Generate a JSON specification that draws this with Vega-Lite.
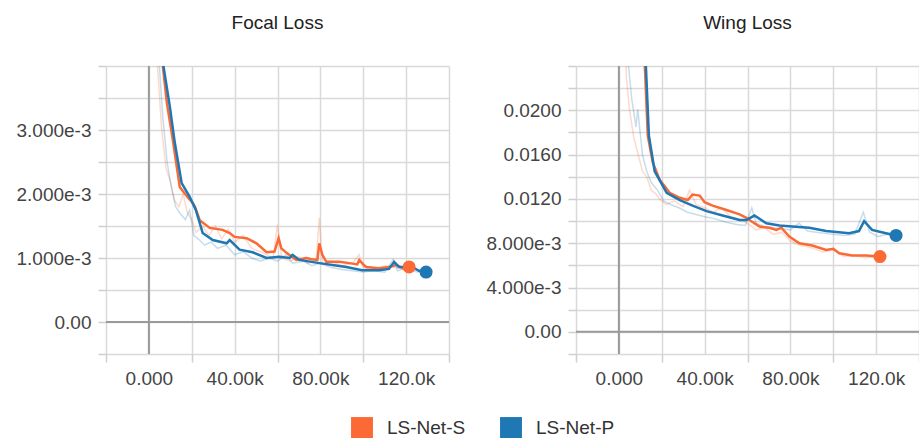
{
  "$schema": "https://vega.github.io/schema/vega-lite/v6.json",
  "padding": {"left": 15, "top": 14, "right": 0, "bottom": 0},
  "config": {
    "view": {"stroke": null},
    "font": "Liberation Sans",
    "axis": {
      "labelFont": "Liberation Sans", "labelFontSize": 19, "labelColor": "#444",
      "domain": false, "gridColor": "#d9d9d9", "gridWidth": 1.5,
      "tickColor": "#cfcfcf", "tickWidth": 1.5, "tickSize": 8, "labelPadding": 7, "title": null
    },
    "title": {"fontSize": 19, "fontWeight": "normal", "color": "#222", "font": "Liberation Sans", "offset": 32},
    "legend": {"labelFontSize": 19, "labelColor": "#333", "labelFont": "Liberation Sans"}
  },
  "datasets": {
    "focal": [
      {"step": 4000, "value": 0.0060, "run": "LS-Net-S", "kind": "smoothed"},
      {"step": 6500, "value": 0.0040, "run": "LS-Net-S", "kind": "smoothed"},
      {"step": 8400, "value": 0.00342, "run": "LS-Net-S", "kind": "smoothed"},
      {"step": 11200, "value": 0.00284, "run": "LS-Net-S", "kind": "smoothed"},
      {"step": 14400, "value": 0.00211, "run": "LS-Net-S", "kind": "smoothed"},
      {"step": 18100, "value": 0.00195, "run": "LS-Net-S", "kind": "smoothed"},
      {"step": 20500, "value": 0.00186, "run": "LS-Net-S", "kind": "smoothed"},
      {"step": 21500, "value": 0.00180, "run": "LS-Net-S", "kind": "smoothed"},
      {"step": 23700, "value": 0.00159, "run": "LS-Net-S", "kind": "smoothed"},
      {"step": 28400, "value": 0.00147, "run": "LS-Net-S", "kind": "smoothed"},
      {"step": 34400, "value": 0.00144, "run": "LS-Net-S", "kind": "smoothed"},
      {"step": 37700, "value": 0.00139, "run": "LS-Net-S", "kind": "smoothed"},
      {"step": 40000, "value": 0.00133, "run": "LS-Net-S", "kind": "smoothed"},
      {"step": 45600, "value": 0.00131, "run": "LS-Net-S", "kind": "smoothed"},
      {"step": 50200, "value": 0.00123, "run": "LS-Net-S", "kind": "smoothed"},
      {"step": 54900, "value": 0.00109, "run": "LS-Net-S", "kind": "smoothed"},
      {"step": 58600, "value": 0.00110, "run": "LS-Net-S", "kind": "smoothed"},
      {"step": 60500, "value": 0.00131, "run": "LS-Net-S", "kind": "smoothed"},
      {"step": 61800, "value": 0.00115, "run": "LS-Net-S", "kind": "smoothed"},
      {"step": 64200, "value": 0.00108, "run": "LS-Net-S", "kind": "smoothed"},
      {"step": 68800, "value": 0.00097, "run": "LS-Net-S", "kind": "smoothed"},
      {"step": 73500, "value": 0.00100, "run": "LS-Net-S", "kind": "smoothed"},
      {"step": 75800, "value": 0.00098, "run": "LS-Net-S", "kind": "smoothed"},
      {"step": 78600, "value": 0.00097, "run": "LS-Net-S", "kind": "smoothed"},
      {"step": 79500, "value": 0.00123, "run": "LS-Net-S", "kind": "smoothed"},
      {"step": 80900, "value": 0.00105, "run": "LS-Net-S", "kind": "smoothed"},
      {"step": 82800, "value": 0.00094, "run": "LS-Net-S", "kind": "smoothed"},
      {"step": 88800, "value": 0.00094, "run": "LS-Net-S", "kind": "smoothed"},
      {"step": 93500, "value": 0.00092, "run": "LS-Net-S", "kind": "smoothed"},
      {"step": 97200, "value": 0.00090, "run": "LS-Net-S", "kind": "smoothed"},
      {"step": 98100, "value": 0.00097, "run": "LS-Net-S", "kind": "smoothed"},
      {"step": 100000, "value": 0.00090, "run": "LS-Net-S", "kind": "smoothed"},
      {"step": 101400, "value": 0.00086, "run": "LS-Net-S", "kind": "smoothed"},
      {"step": 107400, "value": 0.00084, "run": "LS-Net-S", "kind": "smoothed"},
      {"step": 112000, "value": 0.00086, "run": "LS-Net-S", "kind": "smoothed"},
      {"step": 115300, "value": 0.00089, "run": "LS-Net-S", "kind": "smoothed"},
      {"step": 118600, "value": 0.00084, "run": "LS-Net-S", "kind": "smoothed"},
      {"step": 121400, "value": 0.00086, "run": "LS-Net-S", "kind": "smoothed"},

      {"step": 4000, "value": 0.0062, "run": "LS-Net-P", "kind": "smoothed"},
      {"step": 6800, "value": 0.0040, "run": "LS-Net-P", "kind": "smoothed"},
      {"step": 9800, "value": 0.00336, "run": "LS-Net-P", "kind": "smoothed"},
      {"step": 12100, "value": 0.00280, "run": "LS-Net-P", "kind": "smoothed"},
      {"step": 15300, "value": 0.00217, "run": "LS-Net-P", "kind": "smoothed"},
      {"step": 19100, "value": 0.00195, "run": "LS-Net-P", "kind": "smoothed"},
      {"step": 21900, "value": 0.00175, "run": "LS-Net-P", "kind": "smoothed"},
      {"step": 23700, "value": 0.00155, "run": "LS-Net-P", "kind": "smoothed"},
      {"step": 25100, "value": 0.00139, "run": "LS-Net-P", "kind": "smoothed"},
      {"step": 29800, "value": 0.00128, "run": "LS-Net-P", "kind": "smoothed"},
      {"step": 36300, "value": 0.00123, "run": "LS-Net-P", "kind": "smoothed"},
      {"step": 37700, "value": 0.00128, "run": "LS-Net-P", "kind": "smoothed"},
      {"step": 42300, "value": 0.00113, "run": "LS-Net-P", "kind": "smoothed"},
      {"step": 48400, "value": 0.00109, "run": "LS-Net-P", "kind": "smoothed"},
      {"step": 54900, "value": 0.00100, "run": "LS-Net-P", "kind": "smoothed"},
      {"step": 60900, "value": 0.00102, "run": "LS-Net-P", "kind": "smoothed"},
      {"step": 65600, "value": 0.00100, "run": "LS-Net-P", "kind": "smoothed"},
      {"step": 67000, "value": 0.00105, "run": "LS-Net-P", "kind": "smoothed"},
      {"step": 70200, "value": 0.00097, "run": "LS-Net-P", "kind": "smoothed"},
      {"step": 79500, "value": 0.00092, "run": "LS-Net-P", "kind": "smoothed"},
      {"step": 85600, "value": 0.00089, "run": "LS-Net-P", "kind": "smoothed"},
      {"step": 92100, "value": 0.00086, "run": "LS-Net-P", "kind": "smoothed"},
      {"step": 99500, "value": 0.00081, "run": "LS-Net-P", "kind": "smoothed"},
      {"step": 107400, "value": 0.00081, "run": "LS-Net-P", "kind": "smoothed"},
      {"step": 112000, "value": 0.00083, "run": "LS-Net-P", "kind": "smoothed"},
      {"step": 114400, "value": 0.00094, "run": "LS-Net-P", "kind": "smoothed"},
      {"step": 116700, "value": 0.00086, "run": "LS-Net-P", "kind": "smoothed"},
      {"step": 122800, "value": 0.00086, "run": "LS-Net-P", "kind": "smoothed"},
      {"step": 126000, "value": 0.00080, "run": "LS-Net-P", "kind": "smoothed"},
      {"step": 129300, "value": 0.00078, "run": "LS-Net-P", "kind": "smoothed"},

      {"step": 2000, "value": 0.0060, "run": "LS-Net-S", "kind": "raw"},
      {"step": 4000, "value": 0.0040, "run": "LS-Net-S", "kind": "raw"},
      {"step": 6000, "value": 0.0030, "run": "LS-Net-S", "kind": "raw"},
      {"step": 8000, "value": 0.0024, "run": "LS-Net-S", "kind": "raw"},
      {"step": 10000, "value": 0.0022, "run": "LS-Net-S", "kind": "raw"},
      {"step": 12000, "value": 0.0019, "run": "LS-Net-S", "kind": "raw"},
      {"step": 14000, "value": 0.0018, "run": "LS-Net-S", "kind": "raw"},
      {"step": 16000, "value": 0.0020, "run": "LS-Net-S", "kind": "raw"},
      {"step": 18000, "value": 0.0017, "run": "LS-Net-S", "kind": "raw"},
      {"step": 20000, "value": 0.0016, "run": "LS-Net-S", "kind": "raw"},
      {"step": 22000, "value": 0.0014, "run": "LS-Net-S", "kind": "raw"},
      {"step": 25000, "value": 0.0015, "run": "LS-Net-S", "kind": "raw"},
      {"step": 28000, "value": 0.00135, "run": "LS-Net-S", "kind": "raw"},
      {"step": 31000, "value": 0.0015, "run": "LS-Net-S", "kind": "raw"},
      {"step": 34000, "value": 0.0013, "run": "LS-Net-S", "kind": "raw"},
      {"step": 37000, "value": 0.00145, "run": "LS-Net-S", "kind": "raw"},
      {"step": 40000, "value": 0.00125, "run": "LS-Net-S", "kind": "raw"},
      {"step": 44000, "value": 0.00135, "run": "LS-Net-S", "kind": "raw"},
      {"step": 48000, "value": 0.00115, "run": "LS-Net-S", "kind": "raw"},
      {"step": 52000, "value": 0.0011, "run": "LS-Net-S", "kind": "raw"},
      {"step": 55000, "value": 0.00105, "run": "LS-Net-S", "kind": "raw"},
      {"step": 58000, "value": 0.0010, "run": "LS-Net-S", "kind": "raw"},
      {"step": 60000, "value": 0.00152, "run": "LS-Net-S", "kind": "raw"},
      {"step": 62000, "value": 0.0010, "run": "LS-Net-S", "kind": "raw"},
      {"step": 66000, "value": 0.00095, "run": "LS-Net-S", "kind": "raw"},
      {"step": 70000, "value": 0.00102, "run": "LS-Net-S", "kind": "raw"},
      {"step": 74000, "value": 0.00092, "run": "LS-Net-S", "kind": "raw"},
      {"step": 78000, "value": 0.00095, "run": "LS-Net-S", "kind": "raw"},
      {"step": 79500, "value": 0.00163, "run": "LS-Net-S", "kind": "raw"},
      {"step": 81000, "value": 0.0009, "run": "LS-Net-S", "kind": "raw"},
      {"step": 85000, "value": 0.00095, "run": "LS-Net-S", "kind": "raw"},
      {"step": 90000, "value": 0.00088, "run": "LS-Net-S", "kind": "raw"},
      {"step": 95000, "value": 0.00092, "run": "LS-Net-S", "kind": "raw"},
      {"step": 98000, "value": 0.00105, "run": "LS-Net-S", "kind": "raw"},
      {"step": 100000, "value": 0.00085, "run": "LS-Net-S", "kind": "raw"},
      {"step": 105000, "value": 0.00082, "run": "LS-Net-S", "kind": "raw"},
      {"step": 110000, "value": 0.00088, "run": "LS-Net-S", "kind": "raw"},
      {"step": 115000, "value": 0.00085, "run": "LS-Net-S", "kind": "raw"},
      {"step": 120000, "value": 0.00082, "run": "LS-Net-S", "kind": "raw"},
      {"step": 121400, "value": 0.00086, "run": "LS-Net-S", "kind": "raw"},

      {"step": 2500, "value": 0.0060, "run": "LS-Net-P", "kind": "raw"},
      {"step": 4500, "value": 0.0042, "run": "LS-Net-P", "kind": "raw"},
      {"step": 6500, "value": 0.0032, "run": "LS-Net-P", "kind": "raw"},
      {"step": 8500, "value": 0.0025, "run": "LS-Net-P", "kind": "raw"},
      {"step": 10500, "value": 0.0021, "run": "LS-Net-P", "kind": "raw"},
      {"step": 12500, "value": 0.0018, "run": "LS-Net-P", "kind": "raw"},
      {"step": 14500, "value": 0.0017, "run": "LS-Net-P", "kind": "raw"},
      {"step": 17000, "value": 0.0016, "run": "LS-Net-P", "kind": "raw"},
      {"step": 19000, "value": 0.00175, "run": "LS-Net-P", "kind": "raw"},
      {"step": 21000, "value": 0.00135, "run": "LS-Net-P", "kind": "raw"},
      {"step": 23000, "value": 0.0013, "run": "LS-Net-P", "kind": "raw"},
      {"step": 26000, "value": 0.0012, "run": "LS-Net-P", "kind": "raw"},
      {"step": 29000, "value": 0.00125, "run": "LS-Net-P", "kind": "raw"},
      {"step": 32000, "value": 0.00115, "run": "LS-Net-P", "kind": "raw"},
      {"step": 36000, "value": 0.0012, "run": "LS-Net-P", "kind": "raw"},
      {"step": 40000, "value": 0.00105, "run": "LS-Net-P", "kind": "raw"},
      {"step": 44000, "value": 0.0011, "run": "LS-Net-P", "kind": "raw"},
      {"step": 48000, "value": 0.0010, "run": "LS-Net-P", "kind": "raw"},
      {"step": 52000, "value": 0.00095, "run": "LS-Net-P", "kind": "raw"},
      {"step": 56000, "value": 0.0010, "run": "LS-Net-P", "kind": "raw"},
      {"step": 60000, "value": 0.00095, "run": "LS-Net-P", "kind": "raw"},
      {"step": 64000, "value": 0.00105, "run": "LS-Net-P", "kind": "raw"},
      {"step": 67000, "value": 0.00092, "run": "LS-Net-P", "kind": "raw"},
      {"step": 72000, "value": 0.00095, "run": "LS-Net-P", "kind": "raw"},
      {"step": 76000, "value": 0.00088, "run": "LS-Net-P", "kind": "raw"},
      {"step": 80000, "value": 0.00092, "run": "LS-Net-P", "kind": "raw"},
      {"step": 85000, "value": 0.00085, "run": "LS-Net-P", "kind": "raw"},
      {"step": 90000, "value": 0.00082, "run": "LS-Net-P", "kind": "raw"},
      {"step": 95000, "value": 0.0008, "run": "LS-Net-P", "kind": "raw"},
      {"step": 100000, "value": 0.00078, "run": "LS-Net-P", "kind": "raw"},
      {"step": 105000, "value": 0.0008, "run": "LS-Net-P", "kind": "raw"},
      {"step": 110000, "value": 0.00078, "run": "LS-Net-P", "kind": "raw"},
      {"step": 114000, "value": 0.00098, "run": "LS-Net-P", "kind": "raw"},
      {"step": 116000, "value": 0.0008, "run": "LS-Net-P", "kind": "raw"},
      {"step": 120000, "value": 0.00084, "run": "LS-Net-P", "kind": "raw"},
      {"step": 125000, "value": 0.00078, "run": "LS-Net-P", "kind": "raw"},
      {"step": 129300, "value": 0.00078, "run": "LS-Net-P", "kind": "raw"}
    ],
    "wing": [
      {"step": 11000, "value": 0.032, "run": "LS-Net-S", "kind": "smoothed"},
      {"step": 12100, "value": 0.024, "run": "LS-Net-S", "kind": "smoothed"},
      {"step": 13500, "value": 0.0177, "run": "LS-Net-S", "kind": "smoothed"},
      {"step": 15800, "value": 0.0153, "run": "LS-Net-S", "kind": "smoothed"},
      {"step": 19100, "value": 0.0137, "run": "LS-Net-S", "kind": "smoothed"},
      {"step": 23700, "value": 0.01255, "run": "LS-Net-S", "kind": "smoothed"},
      {"step": 28400, "value": 0.0121, "run": "LS-Net-S", "kind": "smoothed"},
      {"step": 32100, "value": 0.0119, "run": "LS-Net-S", "kind": "smoothed"},
      {"step": 34400, "value": 0.0124, "run": "LS-Net-S", "kind": "smoothed"},
      {"step": 37700, "value": 0.0123, "run": "LS-Net-S", "kind": "smoothed"},
      {"step": 40000, "value": 0.0117, "run": "LS-Net-S", "kind": "smoothed"},
      {"step": 43700, "value": 0.0114, "run": "LS-Net-S", "kind": "smoothed"},
      {"step": 50200, "value": 0.0110, "run": "LS-Net-S", "kind": "smoothed"},
      {"step": 56300, "value": 0.0106, "run": "LS-Net-S", "kind": "smoothed"},
      {"step": 59500, "value": 0.0103, "run": "LS-Net-S", "kind": "smoothed"},
      {"step": 60900, "value": 0.0101, "run": "LS-Net-S", "kind": "smoothed"},
      {"step": 65600, "value": 0.0095, "run": "LS-Net-S", "kind": "smoothed"},
      {"step": 70200, "value": 0.0094, "run": "LS-Net-S", "kind": "smoothed"},
      {"step": 73500, "value": 0.0092, "run": "LS-Net-S", "kind": "smoothed"},
      {"step": 75800, "value": 0.0094, "run": "LS-Net-S", "kind": "smoothed"},
      {"step": 79500, "value": 0.0086, "run": "LS-Net-S", "kind": "smoothed"},
      {"step": 84200, "value": 0.0080, "run": "LS-Net-S", "kind": "smoothed"},
      {"step": 90200, "value": 0.0078, "run": "LS-Net-S", "kind": "smoothed"},
      {"step": 96700, "value": 0.0074, "run": "LS-Net-S", "kind": "smoothed"},
      {"step": 100000, "value": 0.0075, "run": "LS-Net-S", "kind": "smoothed"},
      {"step": 102800, "value": 0.0071, "run": "LS-Net-S", "kind": "smoothed"},
      {"step": 108800, "value": 0.0069, "run": "LS-Net-S", "kind": "smoothed"},
      {"step": 115300, "value": 0.0069, "run": "LS-Net-S", "kind": "smoothed"},
      {"step": 121800, "value": 0.0068, "run": "LS-Net-S", "kind": "smoothed"},

      {"step": 11500, "value": 0.032, "run": "LS-Net-P", "kind": "smoothed"},
      {"step": 12600, "value": 0.024, "run": "LS-Net-P", "kind": "smoothed"},
      {"step": 14000, "value": 0.0177, "run": "LS-Net-P", "kind": "smoothed"},
      {"step": 16700, "value": 0.0145, "run": "LS-Net-P", "kind": "smoothed"},
      {"step": 22300, "value": 0.01255, "run": "LS-Net-P", "kind": "smoothed"},
      {"step": 28400, "value": 0.0119, "run": "LS-Net-P", "kind": "smoothed"},
      {"step": 34400, "value": 0.0114, "run": "LS-Net-P", "kind": "smoothed"},
      {"step": 40900, "value": 0.0109, "run": "LS-Net-P", "kind": "smoothed"},
      {"step": 48400, "value": 0.0105, "run": "LS-Net-P", "kind": "smoothed"},
      {"step": 56300, "value": 0.0101, "run": "LS-Net-P", "kind": "smoothed"},
      {"step": 59500, "value": 0.0101, "run": "LS-Net-P", "kind": "smoothed"},
      {"step": 63200, "value": 0.0105, "run": "LS-Net-P", "kind": "smoothed"},
      {"step": 68800, "value": 0.0098, "run": "LS-Net-P", "kind": "smoothed"},
      {"step": 74900, "value": 0.0096, "run": "LS-Net-P", "kind": "smoothed"},
      {"step": 80900, "value": 0.0095, "run": "LS-Net-P", "kind": "smoothed"},
      {"step": 88800, "value": 0.0094, "run": "LS-Net-P", "kind": "smoothed"},
      {"step": 96700, "value": 0.0091, "run": "LS-Net-P", "kind": "smoothed"},
      {"step": 107400, "value": 0.0089, "run": "LS-Net-P", "kind": "smoothed"},
      {"step": 112000, "value": 0.0091, "run": "LS-Net-P", "kind": "smoothed"},
      {"step": 114400, "value": 0.0100, "run": "LS-Net-P", "kind": "smoothed"},
      {"step": 118100, "value": 0.0092, "run": "LS-Net-P", "kind": "smoothed"},
      {"step": 124600, "value": 0.0089, "run": "LS-Net-P", "kind": "smoothed"},
      {"step": 129300, "value": 0.0087, "run": "LS-Net-P", "kind": "smoothed"},

      {"step": 2500, "value": 0.028, "run": "LS-Net-S", "kind": "raw"},
      {"step": 3500, "value": 0.023, "run": "LS-Net-S", "kind": "raw"},
      {"step": 5000, "value": 0.020, "run": "LS-Net-S", "kind": "raw"},
      {"step": 7000, "value": 0.0175, "run": "LS-Net-S", "kind": "raw"},
      {"step": 9000, "value": 0.016, "run": "LS-Net-S", "kind": "raw"},
      {"step": 11000, "value": 0.0145, "run": "LS-Net-S", "kind": "raw"},
      {"step": 13000, "value": 0.014, "run": "LS-Net-S", "kind": "raw"},
      {"step": 15000, "value": 0.0128, "run": "LS-Net-S", "kind": "raw"},
      {"step": 17000, "value": 0.0125, "run": "LS-Net-S", "kind": "raw"},
      {"step": 19000, "value": 0.012, "run": "LS-Net-S", "kind": "raw"},
      {"step": 22000, "value": 0.0115, "run": "LS-Net-S", "kind": "raw"},
      {"step": 26000, "value": 0.0118, "run": "LS-Net-S", "kind": "raw"},
      {"step": 30000, "value": 0.0113, "run": "LS-Net-S", "kind": "raw"},
      {"step": 33000, "value": 0.0128, "run": "LS-Net-S", "kind": "raw"},
      {"step": 36000, "value": 0.0115, "run": "LS-Net-S", "kind": "raw"},
      {"step": 40000, "value": 0.0112, "run": "LS-Net-S", "kind": "raw"},
      {"step": 44000, "value": 0.0108, "run": "LS-Net-S", "kind": "raw"},
      {"step": 48000, "value": 0.0112, "run": "LS-Net-S", "kind": "raw"},
      {"step": 52000, "value": 0.0104, "run": "LS-Net-S", "kind": "raw"},
      {"step": 56000, "value": 0.0102, "run": "LS-Net-S", "kind": "raw"},
      {"step": 60000, "value": 0.0098, "run": "LS-Net-S", "kind": "raw"},
      {"step": 64000, "value": 0.0092, "run": "LS-Net-S", "kind": "raw"},
      {"step": 68000, "value": 0.0094, "run": "LS-Net-S", "kind": "raw"},
      {"step": 72000, "value": 0.0088, "run": "LS-Net-S", "kind": "raw"},
      {"step": 76000, "value": 0.0090, "run": "LS-Net-S", "kind": "raw"},
      {"step": 80000, "value": 0.0082, "run": "LS-Net-S", "kind": "raw"},
      {"step": 85000, "value": 0.0078, "run": "LS-Net-S", "kind": "raw"},
      {"step": 90000, "value": 0.0076, "run": "LS-Net-S", "kind": "raw"},
      {"step": 95000, "value": 0.0072, "run": "LS-Net-S", "kind": "raw"},
      {"step": 100000, "value": 0.0074, "run": "LS-Net-S", "kind": "raw"},
      {"step": 105000, "value": 0.0068, "run": "LS-Net-S", "kind": "raw"},
      {"step": 110000, "value": 0.0069, "run": "LS-Net-S", "kind": "raw"},
      {"step": 115000, "value": 0.0067, "run": "LS-Net-S", "kind": "raw"},
      {"step": 121800, "value": 0.0068, "run": "LS-Net-S", "kind": "raw"},

      {"step": 3000, "value": 0.030, "run": "LS-Net-P", "kind": "raw"},
      {"step": 4500, "value": 0.024, "run": "LS-Net-P", "kind": "raw"},
      {"step": 6000, "value": 0.021, "run": "LS-Net-P", "kind": "raw"},
      {"step": 8000, "value": 0.0185, "run": "LS-Net-P", "kind": "raw"},
      {"step": 8800, "value": 0.0201, "run": "LS-Net-P", "kind": "raw"},
      {"step": 11000, "value": 0.016, "run": "LS-Net-P", "kind": "raw"},
      {"step": 13000, "value": 0.0145, "run": "LS-Net-P", "kind": "raw"},
      {"step": 15000, "value": 0.0135, "run": "LS-Net-P", "kind": "raw"},
      {"step": 18000, "value": 0.0128, "run": "LS-Net-P", "kind": "raw"},
      {"step": 21000, "value": 0.0118, "run": "LS-Net-P", "kind": "raw"},
      {"step": 24000, "value": 0.0115, "run": "LS-Net-P", "kind": "raw"},
      {"step": 28000, "value": 0.0112, "run": "LS-Net-P", "kind": "raw"},
      {"step": 32000, "value": 0.0108, "run": "LS-Net-P", "kind": "raw"},
      {"step": 36000, "value": 0.0106, "run": "LS-Net-P", "kind": "raw"},
      {"step": 40000, "value": 0.0104, "run": "LS-Net-P", "kind": "raw"},
      {"step": 45000, "value": 0.0102, "run": "LS-Net-P", "kind": "raw"},
      {"step": 50000, "value": 0.0099, "run": "LS-Net-P", "kind": "raw"},
      {"step": 55000, "value": 0.0097, "run": "LS-Net-P", "kind": "raw"},
      {"step": 59000, "value": 0.0096, "run": "LS-Net-P", "kind": "raw"},
      {"step": 62000, "value": 0.0112, "run": "LS-Net-P", "kind": "raw"},
      {"step": 64000, "value": 0.0098, "run": "LS-Net-P", "kind": "raw"},
      {"step": 68000, "value": 0.0095, "run": "LS-Net-P", "kind": "raw"},
      {"step": 72000, "value": 0.0094, "run": "LS-Net-P", "kind": "raw"},
      {"step": 76000, "value": 0.0093, "run": "LS-Net-P", "kind": "raw"},
      {"step": 80000, "value": 0.0092, "run": "LS-Net-P", "kind": "raw"},
      {"step": 84000, "value": 0.0098, "run": "LS-Net-P", "kind": "raw"},
      {"step": 88000, "value": 0.0091, "run": "LS-Net-P", "kind": "raw"},
      {"step": 92000, "value": 0.0090, "run": "LS-Net-P", "kind": "raw"},
      {"step": 96000, "value": 0.0089, "run": "LS-Net-P", "kind": "raw"},
      {"step": 100000, "value": 0.0088, "run": "LS-Net-P", "kind": "raw"},
      {"step": 105000, "value": 0.0087, "run": "LS-Net-P", "kind": "raw"},
      {"step": 110000, "value": 0.0088, "run": "LS-Net-P", "kind": "raw"},
      {"step": 114000, "value": 0.0108, "run": "LS-Net-P", "kind": "raw"},
      {"step": 117000, "value": 0.0090, "run": "LS-Net-P", "kind": "raw"},
      {"step": 121000, "value": 0.0086, "run": "LS-Net-P", "kind": "raw"},
      {"step": 125000, "value": 0.0088, "run": "LS-Net-P", "kind": "raw"},
      {"step": 129300, "value": 0.0086, "run": "LS-Net-P", "kind": "raw"}
    ]
  },
  "spacing": 35,
  "hconcat": [
    {
      "title": {"text": "Focal Loss"},
      "width": 343, "height": 288,
      "data": {"name": "focal"},
      "encoding": {
        "x": {"field": "step", "type": "quantitative",
          "scale": {"domain": [-20000, 140000], "nice": false, "zero": false},
          "axis": {"values": [-20000, 0, 20000, 40000, 60000, 80000, 100000, 120000, 140000],
            "labelExpr": "datum.value % 40000 !== 0 ? '' : (datum.value === 0 ? '0.000' : format(datum.value / 1000, datum.value >= 100000 ? '.1f' : '.2f') + 'k')",
            "tickOpacity": {"condition": {"test": "datum.value % 40000 === 0", "value": 0}, "value": 1}}},
        "y": {"field": "value", "type": "quantitative",
          "scale": {"domain": [-0.0005, 0.004], "nice": false, "zero": false},
          "axis": {"values": [-0.0005, 0, 0.0005, 0.001, 0.0015, 0.002, 0.0025, 0.003, 0.0035, 0.004],
            "labelExpr": "(abs(datum.value * 1000 - round(datum.value * 1000)) > 1e-6 || datum.value > 0.0035) ? '' : (abs(datum.value) < 1e-9 ? '0.00' : format(datum.value, '.3e'))"}}
      },
      "layer": [
        {"transform": [{"filter": "datum.kind === 'raw'"}], "mark": {"type": "line", "clip": true, "strokeWidth": 1.5, "opacity": 0.25},
          "encoding": {"color": {"field": "run", "type": "nominal"}}},
        {"data": {"values": [{"zero": 0, "lo": -0.0005, "hi": 0.004}]}, "mark": {"type": "rule", "strokeWidth": 2, "color": "#9a9a9a"},
          "encoding": {"x": {"field": "zero", "type": "quantitative"}, "y": {"field": "lo", "type": "quantitative"}, "y2": {"field": "hi"}}},
        {"data": {"values": [{"zero": 0, "lo": -20000, "hi": 140000}]}, "mark": {"type": "rule", "strokeWidth": 2, "color": "#9a9a9a"},
          "encoding": {"y": {"field": "zero", "type": "quantitative"}, "x": {"field": "lo", "type": "quantitative"}, "x2": {"field": "hi"}}},
        {"transform": [{"filter": "datum.kind === 'smoothed'"}], "mark": {"type": "line", "clip": true, "strokeWidth": 2.5},
          "encoding": {"color": {"field": "run", "type": "nominal",
            "scale": {"domain": ["LS-Net-S", "LS-Net-P"], "range": ["#fb6a35", "#1f77b4"]},
            "legend": {"title": null, "orient": "none", "legendX": 245, "legendY": 351, "direction": "horizontal", "symbolType": "square", "symbolSize": 480,
              "symbolStrokeWidth": 0, "labelOffset": 14, "columnPadding": 34,
              "encode": {"symbols": {"update": {"fill": {"scale": "color", "field": "value"}, "opacity": {"value": 1}}}}}}}},
        {"transform": [{"filter": "datum.kind === 'smoothed'"}, {"joinaggregate": [{"op": "max", "field": "step", "as": "maxstep"}], "groupby": ["run"]}, {"filter": "datum.step === datum.maxstep"}],
          "mark": {"type": "circle", "size": 170, "opacity": 1},
          "encoding": {"color": {"field": "run", "type": "nominal"}}}
      ]
    },
    {
      "title": {"text": "Wing Loss"},
      "width": 343, "height": 288,
      "data": {"name": "wing"},
      "encoding": {
        "x": {"field": "step", "type": "quantitative",
          "scale": {"domain": [-20000, 140000], "nice": false, "zero": false},
          "axis": {"values": [-20000, 0, 20000, 40000, 60000, 80000, 100000, 120000, 140000],
            "labelExpr": "datum.value % 40000 !== 0 ? '' : (datum.value === 0 ? '0.000' : format(datum.value / 1000, datum.value >= 100000 ? '.1f' : '.2f') + 'k')",
            "tickOpacity": {"condition": {"test": "datum.value % 40000 === 0", "value": 0}, "value": 1}}},
        "y": {"field": "value", "type": "quantitative",
          "scale": {"domain": [-0.002, 0.024], "nice": false, "zero": false},
          "axis": {"values": [-0.002, 0, 0.002, 0.004, 0.006, 0.008, 0.01, 0.012, 0.014, 0.016, 0.018, 0.02, 0.022, 0.024],
            "labelExpr": "(abs(datum.value * 250 - round(datum.value * 250)) > 1e-6 || datum.value > 0.022) ? '' : (abs(datum.value) < 1e-9 ? '0.00' : (datum.value < 0.01 ? format(datum.value, '.3e') : format(datum.value, '.4f')))"}}
      },
      "layer": [
        {"transform": [{"filter": "datum.kind === 'raw'"}], "mark": {"type": "line", "clip": true, "strokeWidth": 1.5, "opacity": 0.25},
          "encoding": {"color": {"field": "run", "type": "nominal"}}},
        {"data": {"values": [{"zero": 0, "lo": -0.002, "hi": 0.024}]}, "mark": {"type": "rule", "strokeWidth": 2, "color": "#9a9a9a"},
          "encoding": {"x": {"field": "zero", "type": "quantitative"}, "y": {"field": "lo", "type": "quantitative"}, "y2": {"field": "hi"}}},
        {"data": {"values": [{"zero": 0, "lo": -20000, "hi": 140000}]}, "mark": {"type": "rule", "strokeWidth": 2, "color": "#9a9a9a"},
          "encoding": {"y": {"field": "zero", "type": "quantitative"}, "x": {"field": "lo", "type": "quantitative"}, "x2": {"field": "hi"}}},
        {"transform": [{"filter": "datum.kind === 'smoothed'"}], "mark": {"type": "line", "clip": true, "strokeWidth": 2.5},
          "encoding": {"color": {"field": "run", "type": "nominal"}}},
        {"transform": [{"filter": "datum.kind === 'smoothed'"}, {"joinaggregate": [{"op": "max", "field": "step", "as": "maxstep"}], "groupby": ["run"]}, {"filter": "datum.step === datum.maxstep"}],
          "mark": {"type": "circle", "size": 170, "opacity": 1},
          "encoding": {"color": {"field": "run", "type": "nominal"}}}
      ]
    }
  ]
}
